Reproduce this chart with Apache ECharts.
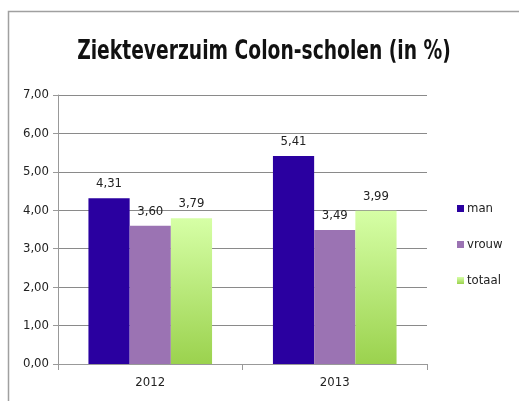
<!DOCTYPE html>
<html>
<head>
<meta charset="utf-8">
<script src="https://cdn.jsdelivr.net/npm/echarts@6/dist/echarts.min.js"></script>
<style>html,body{margin:0;padding:0;background:#fff}#c{width:519px;height:401px}</style>
</head>
<body>
<div id="c"></div>
<script>
var categories = ['2012', '2013'];
var seriesNames = ['man', 'vrouw', 'totaal'];
var manValues = [4.31, 5.41];
var vrouwValues = [3.60, 3.49];
var totaalValues = [3.79, 3.99];
var yTicks = [0, 1, 2, 3, 4, 5, 6, 7];
var titleText = 'Ziekteverzuim Colon-scholen (in %)';

var fmt = function (v) { return Number(v).toFixed(2).replace('.', ','); };
var font = '"DejaVu Sans Condensed", "Liberation Sans", sans-serif';
var chart = echarts.init(document.getElementById('c'), null, {renderer: 'canvas'});
var labelCfg = {show: true, position: 'top', distance: 8, formatter: function (p) { return fmt(p.value); }, fontFamily: font, fontSize: 13, color: '#222'};
chart.setOption({
  animation: false,
  backgroundColor: '#fff',
  graphic: [
    {type: 'rect', shape: {x: 8.5, y: 11.5, width: 600, height: 500}, style: {fill: 'none', stroke: '#a0a0a0', lineWidth: 1.5}},
    {type: 'text', x: 264, y: 52, scaleX: 0.77, style: {text: titleText, textAlign: 'center', textVerticalAlign: 'middle', font: 'bold 27px "DejaVu Sans Condensed", sans-serif', fill: '#111'}}
  ],
  legend: {
    orient: 'vertical', left: 452, top: 197, itemWidth: 7, itemHeight: 7, itemGap: 23, icon: 'rect',
    textStyle: {fontFamily: font, fontSize: 13, color: '#222', padding: [0, 0, 0, -2]},
    data: seriesNames
  },
  grid: {left: 58, right: 92, top: 95, bottom: 37},
  xAxis: {
    type: 'category', data: categories,
    axisLine: {lineStyle: {color: '#999'}},
    axisTick: {show: true, length: 6, lineStyle: {color: '#999'}},
    axisLabel: {fontFamily: font, fontSize: 13, color: '#222', margin: 12}
  },
  yAxis: {
    type: 'value', min: yTicks[0], max: yTicks[yTicks.length - 1], interval: 1,
    axisLine: {show: true, lineStyle: {color: '#999'}},
    axisTick: {show: true, length: 5, lineStyle: {color: '#999'}},
    splitLine: {lineStyle: {color: '#8a8a8a'}},
    axisLabel: {fontFamily: font, fontSize: 13, color: '#222', margin: 9, formatter: fmt}
  },
  series: [
    {name: 'man', type: 'bar', data: manValues, barGap: '0%', barCategoryGap: '33%', itemStyle: {color: '#2a00a0'}, label: labelCfg},
    {name: 'vrouw', type: 'bar', data: vrouwValues, itemStyle: {color: '#9b73b3'}, label: labelCfg},
    {name: 'totaal', type: 'bar', data: totaalValues, itemStyle: {color: new echarts.graphic.LinearGradient(0, 0, 0, 1, [{offset: 0, color: '#d6ffa6'}, {offset: 1, color: '#9bd24e'}])}, label: labelCfg}
  ]
});
</script>
</body>
</html>
